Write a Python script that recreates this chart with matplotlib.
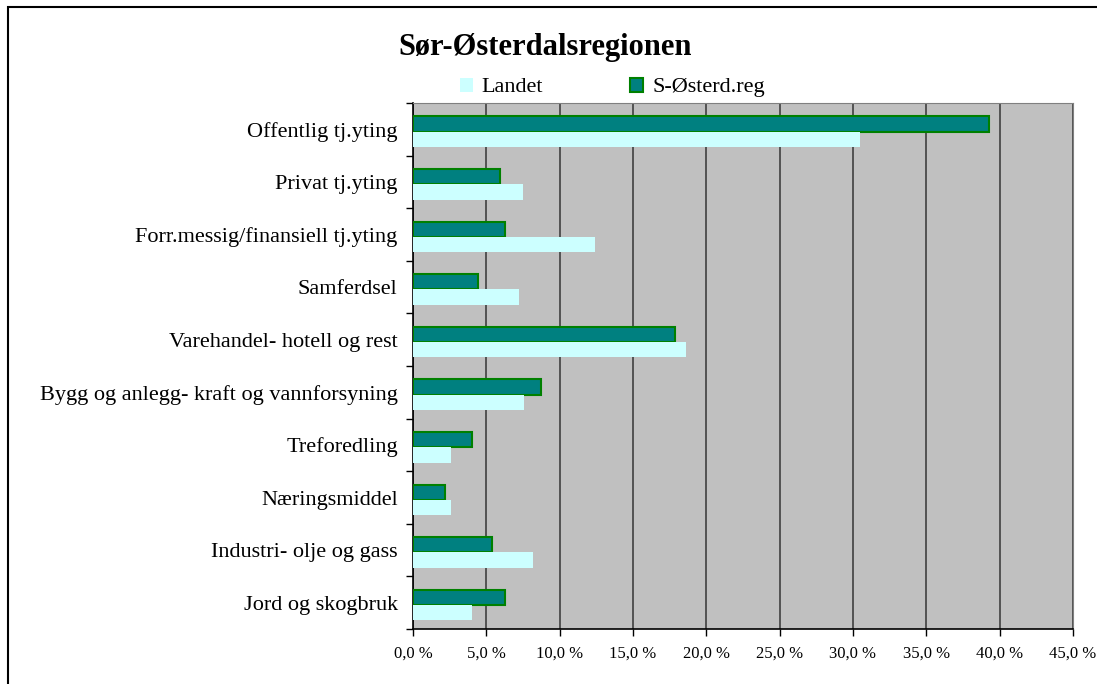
import matplotlib.pyplot as plt
import numpy as np
from matplotlib.patches import Rectangle
from matplotlib.ticker import FuncFormatter, MultipleLocator

plt.rcParams["font.family"] = ["Liberation Serif", "DejaVu Serif"]

# Top to bottom as drawn
categories = [
    "Offentlig tj.yting",
    "Privat tj.yting",
    "Forr.messig/finansiell tj.yting",
    "Samferdsel",
    "Varehandel- hotell og rest",
    "Bygg og anlegg- kraft og vannforsyning",
    "Treforedling",
    "Næringsmiddel",
    "Industri- olje og gass",
    "Jord og skogbruk",
]
landet = [30.5, 7.5, 12.4, 7.2, 18.6, 7.6, 2.6, 2.6, 8.2, 4.0]
region = [39.3, 5.9, 6.3, 4.4, 17.9, 8.7, 4.0, 2.2, 5.4, 6.3]

fig = plt.figure(figsize=(10.97, 6.84), dpi=100)
ax = fig.add_axes([0.3765, 0.0804, 0.6015, 0.7690])

n = len(categories)
y = np.arange(n)[::-1].astype(float)
h = 0.29
shift = -0.045  # pair sits a little below the category centre

ax.barh(y + h / 2 + shift, region, height=h, color="#008080", edgecolor="#008000",
        linewidth=1.5, label="S-Østerd.reg", zorder=3)
ax.barh(y - h / 2 + shift, landet, height=h, color="#CCFFFF", edgecolor="none",
        label="Landet", zorder=3)

ax.set_facecolor("#C0C0C0")
ax.set_xlim(0, 45)
ax.set_ylim(-0.5, n - 0.5)
ax.xaxis.set_major_locator(MultipleLocator(5))
ax.xaxis.set_major_formatter(FuncFormatter(lambda v, _: f"{v:.1f} %".replace(".", ",")))
ax.grid(True, axis="x", color="#404040", linewidth=1.2, zorder=1)

ax.set_yticks(y)
ax.set_yticklabels(categories, fontsize=16)
ax.set_yticks(np.arange(n + 1) - 0.5, minor=True)
ax.tick_params(axis="y", which="major", length=0, pad=11)
ax.tick_params(axis="y", which="minor", length=5, direction="out", width=1)
ax.tick_params(axis="x", length=5, width=1, labelsize=12, pad=7)

for side in ("top", "right"):
    ax.spines[side].set_color("#808080")
for side in ("left", "bottom"):
    ax.spines[side].set_color("black")
    ax.spines[side].set_linewidth(1.2)

fig.text(0.497, 0.930, "Sør-Østerdalsregionen", ha="center", va="center",
         fontsize=22, fontweight="bold")

handles, labels = ax.get_legend_handles_labels()
fig.legend(handles[::-1], labels[::-1], loc="center", bbox_to_anchor=(0.558, 0.872),
           ncol=2, frameon=False, fontsize=16, handlelength=0.6, handleheight=0.6,
           columnspacing=3.9, handletextpad=0.4)

fig.patches.append(Rectangle((8 / 1097, -0.1), 1.2, 1.1 - 7 / 684, transform=fig.transFigure,
                             fill=False, edgecolor="black", linewidth=1.5))

fig.savefig("out.png", dpi=100)
